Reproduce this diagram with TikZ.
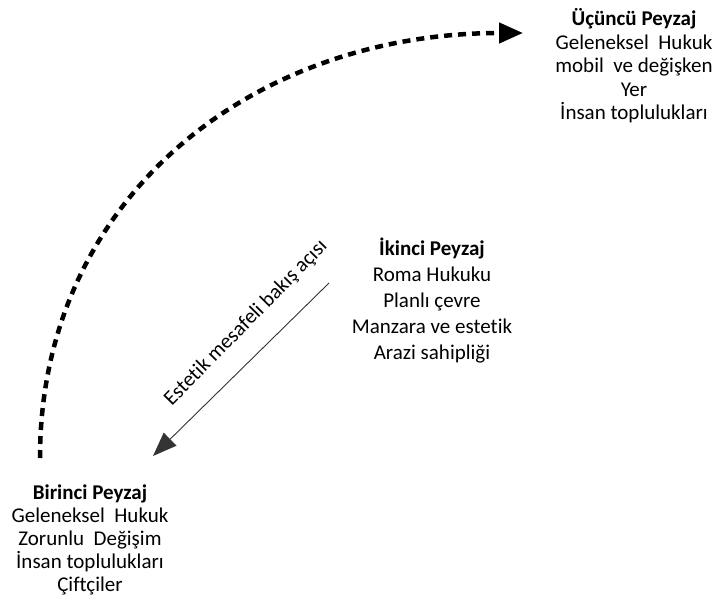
\documentclass[tikz,border=0pt]{standalone}
\usepackage{fontspec}
\setmainfont[Ligatures=NoCommon]{Carlito}
\usetikzlibrary{arrows.meta}
\begin{document}
\begin{tikzpicture}[x=1pt,y=-1pt,
  txt/.style={align=center,inner sep=0pt,font=\fontsize{21}{#1}\selectfont},
  txt/.default=24,
  dashcurve/.style={line width=4.5pt,dash pattern=on 8pt off 6pt,
    -{Triangle[length=24pt,width=20pt]}},
  thinarrow/.style={line width=0.9pt,draw=black!80,
    -{Triangle[length=24pt,width=18pt]}}]
\useasboundingbox (0,0) rectangle (713,610);
\node[txt=23.5] (third) at (634,66) {\textbf{Üçüncü Peyzaj}\\Geleneksel~ Hukuk\\mobil~ ve değişken\\Yer\\İnsan toplulukları};
\node[txt=26] (second) at (432,301) {\textbf{İkinci Peyzaj}\\Roma Hukuku\\Planlı çevre\\Manzara ve estetik\\Arazi sahipliği};
\node[txt=23] (first) at (90,540) {\textbf{Birinci Peyzaj}\\Geleneksel~ Hukuk\\Zorunlu~ Değişim\\İnsan toplulukları\\Çiftçiler};
\coordinate (cs) at (40,458);
\coordinate (ce) at (523,33);
\draw[dashcurve] (cs) .. controls (40,200) and (250,33) .. (ce);
\coordinate (as) at (329,283);
\coordinate (ae) at (153,456);
\draw[thinarrow] (as) -- (ae);
\node[txt,rotate=45.5] (lab) at (246,323) {Estetik mesafeli bakış açısı};
\end{tikzpicture}
\end{document}
